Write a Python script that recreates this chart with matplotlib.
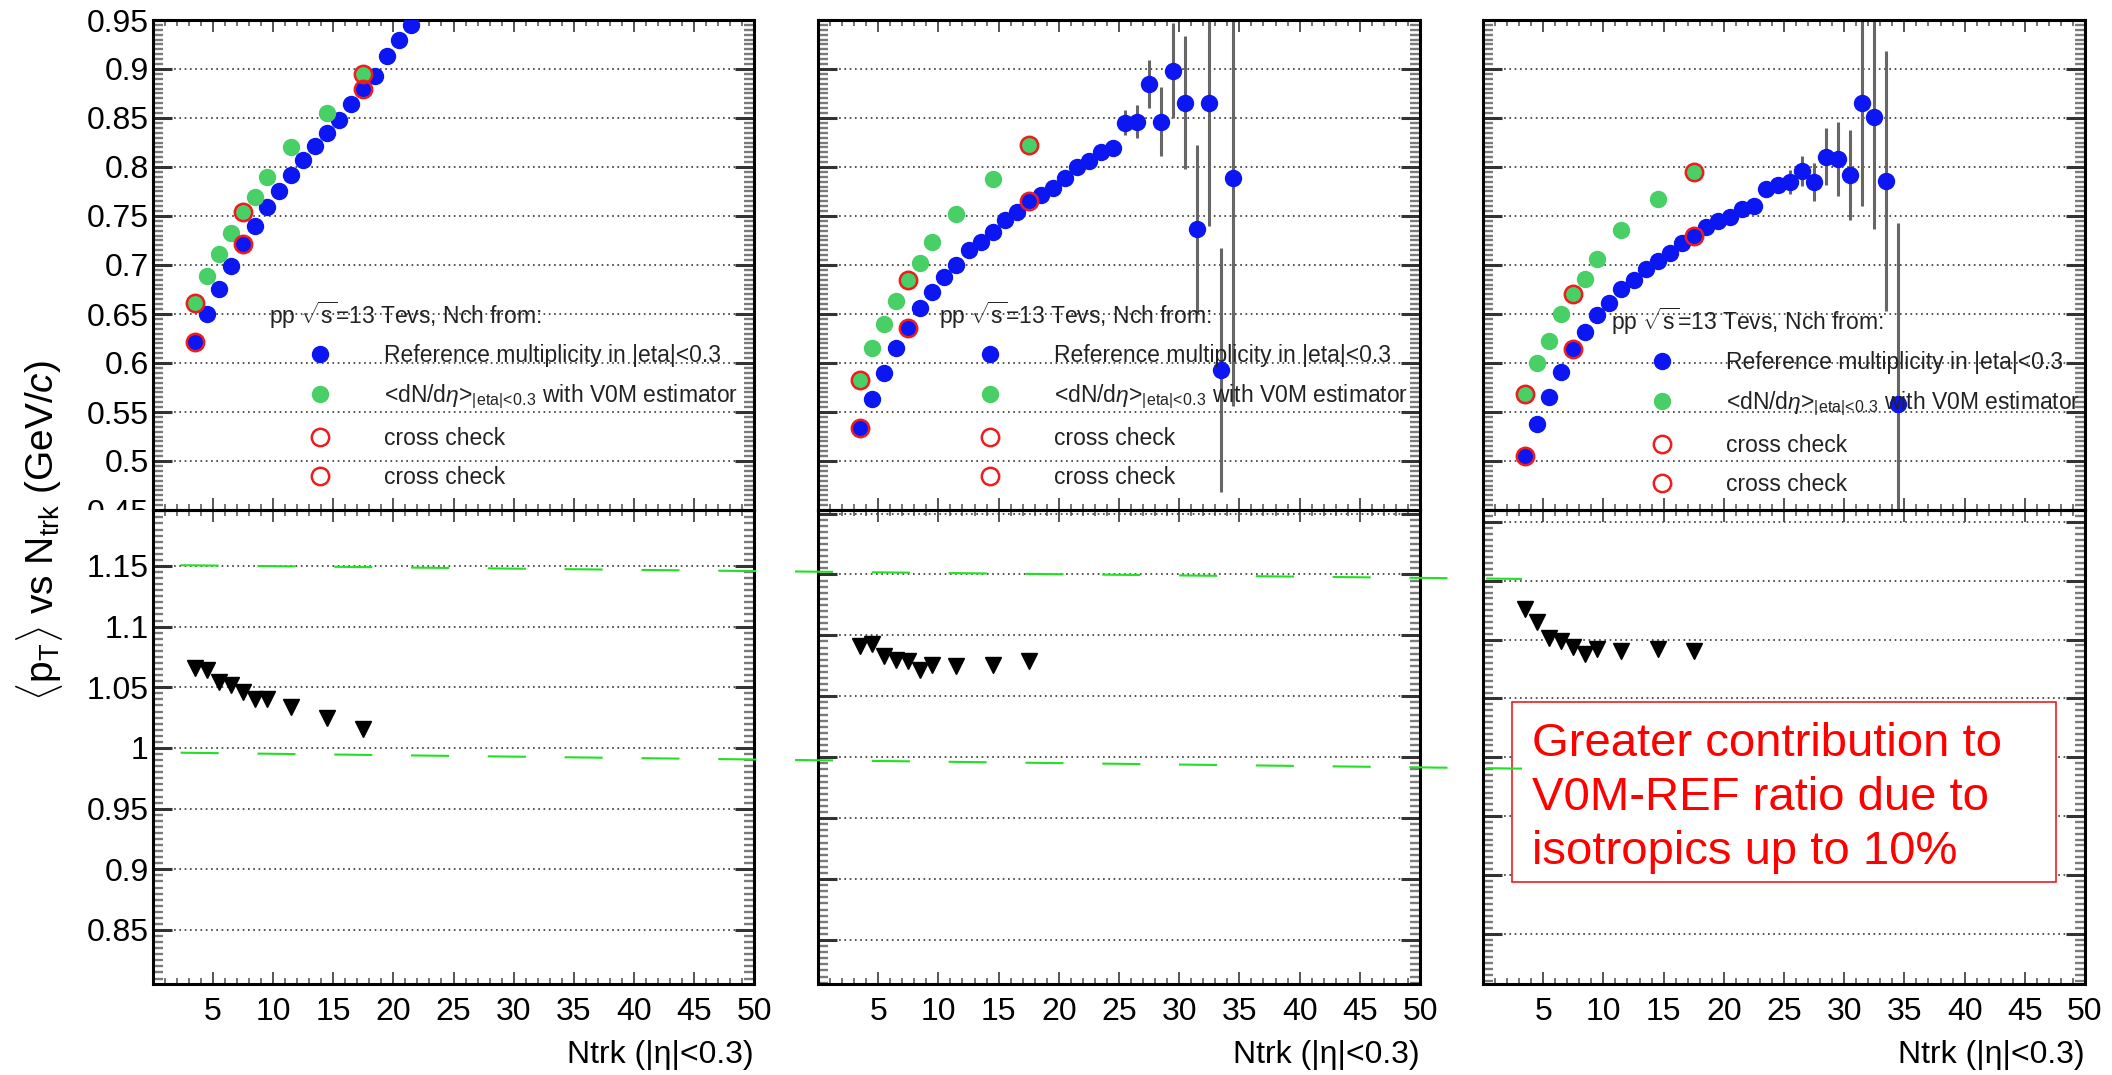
import matplotlib
matplotlib.use("Agg")
import matplotlib.pyplot as plt
from matplotlib.patches import Rectangle
from matplotlib.lines import Line2D
from matplotlib.ticker import MultipleLocator, FuncFormatter

plt.rcParams["font.family"] = ["Liberation Sans", "DejaVu Sans"]
plt.rcParams["mathtext.fontset"] = "custom"
plt.rcParams["mathtext.rm"] = "Liberation Sans"
plt.rcParams["mathtext.it"] = "Liberation Sans:italic"
plt.rcParams["mathtext.bf"] = "Liberation Sans:bold"
plt.rcParams["lines.scale_dashes"] = False

# --- Daten -------------------------------------------------------------------
# Binmitten Ntrk fuer die Referenz-Multiplizitaet
x_ref1 = [3.5, 4.5, 5.5, 6.5, 7.5, 8.5, 9.5, 10.5, 11.5, 12.5, 13.5, 14.5,
          15.5, 16.5, 17.5, 18.5, 19.5, 20.5, 21.5]
x_ref = [3.5, 4.5, 5.5, 6.5, 7.5, 8.5, 9.5, 10.5, 11.5, 12.5, 13.5, 14.5,
         15.5, 16.5, 17.5, 18.5, 19.5, 20.5, 21.5, 22.5, 23.5, 24.5, 25.5,
         26.5, 27.5, 28.5, 29.5, 30.5, 31.5, 32.5, 33.5, 34.5]
# Binmitten fuer den V0M-Schaetzer und den Cross-Check
x_v0m = [3.5, 4.5, 5.5, 6.5, 7.5, 8.5, 9.5, 11.5, 14.5, 17.5]
x_check = [3.5, 7.5, 17.5]

# Panel 1
ref_1 = [0.621, 0.650, 0.675, 0.699, 0.7215, 0.740, 0.759, 0.776, 0.792, 0.807,
         0.821, 0.835, 0.848, 0.864, 0.880, 0.893, 0.913, 0.930, 0.945]
ref_err_1 = [0.001, 0.001, 0.001, 0.001, 0.001, 0.001, 0.001, 0.001, 0.001, 0.001,
             0.001, 0.001, 0.002, 0.002, 0.002, 0.002, 0.002, 0.003, 0.003]
v0m_1 = [0.661, 0.689, 0.711, 0.733, 0.754, 0.769, 0.790, 0.820, 0.8555, 0.895]
check_v0m_1 = [0.661, 0.754, 0.895]
check_ref_1 = [0.621, 0.7215, 0.880]
ratio_1 = [1.066, 1.064, 1.054, 1.052, 1.046, 1.040, 1.040, 1.034, 1.025, 1.016]

# Panel 2
ref_2 = [0.534, 0.5636, 0.5894, 0.6149, 0.636, 0.6563, 0.6722, 0.6875, 0.7004,
         0.715, 0.7235, 0.7337, 0.7455, 0.754, 0.7649, 0.7717, 0.7781, 0.7887,
         0.8005, 0.8063, 0.8155, 0.8192, 0.8453, 0.8463, 0.8847, 0.8463, 0.8983,
         0.8657, 0.7368, 0.8657, 0.593, 0.7883]
ref_err_2 = [0.001, 0.001, 0.001, 0.001, 0.001, 0.001, 0.001, 0.001, 0.001, 0.002,
             0.002, 0.002, 0.002, 0.002, 0.003, 0.003, 0.003, 0.004, 0.004, 0.005,
             0.005, 0.006, 0.0127, 0.017, 0.0246, 0.0353, 0.0485, 0.068, 0.0857,
             0.126, 0.1247, 0.232]
v0m_2 = [0.5826, 0.6149, 0.6393, 0.663, 0.6851, 0.7021, 0.7231, 0.7523, 0.788, 0.8226]
check_v0m_2 = [0.5826, 0.6851, 0.8226]
check_ref_2 = [0.534, 0.636, 0.7649]
ratio_2 = [1.091, 1.093, 1.083, 1.080, 1.0786, 1.072, 1.0756, 1.0747, 1.0756, 1.0786]

# Panel 3
ref_3 = [0.5052, 0.5382, 0.5653, 0.5907, 0.6138, 0.6318, 0.6488, 0.6614, 0.675,
         0.6851, 0.696, 0.7038, 0.7123, 0.7225, 0.73, 0.7388, 0.7445, 0.749,
         0.7575, 0.7605, 0.7778, 0.7819, 0.7846, 0.7964, 0.7846, 0.8107, 0.8084,
         0.792, 0.8657, 0.8514, 0.786, 0.558]
ref_err_3 = [0.001, 0.001, 0.001, 0.001, 0.001, 0.001, 0.001, 0.001, 0.001, 0.002,
             0.002, 0.002, 0.002, 0.002, 0.003, 0.003, 0.003, 0.004, 0.004, 0.005,
             0.005, 0.006, 0.012, 0.0153, 0.0195, 0.0288, 0.038, 0.0458, 0.106,
             0.115, 0.1327, 0.185]
v0m_3 = [0.5687, 0.5996, 0.6223, 0.6495, 0.6706, 0.6858, 0.7062, 0.7353, 0.7676, 0.7954]
check_v0m_3 = [0.5687, 0.6706, 0.7954]
check_ref_3 = [0.5052, 0.6138, 0.73]
ratio_3 = [1.126, 1.115, 1.1015, 1.099, 1.094, 1.0875, 1.0916, 1.0906, 1.0922, 1.0906]

# gruene Hilfslinien (von Hand eingezeichnet), in Koordinaten von Panel 1 unten
guide_x = [2.3, 113.9]
guide_upper = [1.1506, 1.1393]
guide_lower = [0.9961, 0.983]

# Beschriftungen
label_ref = "Reference multiplicity in |eta|<0.3"
label_v0m = r"<dN/d$\eta$>$_{\mathrm{|eta|\!<\!0.3}}$ with V0M estimator"
label_check = "cross check"
header = r"pp $\sqrt{\mathrm{s}}$=13 Tevs, Nch from:"
note = "Greater contribution to\nV0M-REF ratio due to\nisotropics up to 10%"

BLUE = "#0c16f2"
GREEN = "#48cf66"
RED = "#ee1c1c"

# --- Layout (Pixel im Ausgabebild) -------------------------------------------
W, H = 2112, 1075
fig = plt.figure(figsize=(W / 100, H / 100), dpi=100)

panel_left = [153, 818, 1483]
panel_right = [754, 1420, 2085]
top_y, split_y, bottom_y = 20, 510, 984
low_ylims = [(0.8055, 1.1961), (0.8139, 1.2029), (0.8072, 1.2102)]
legend_pos = [(0.1923, 0.398, 0.258, 0.339),
              (0.2007, 0.398, 0.266, 0.339),
              (0.212, 0.3843, 0.278, 0.325)]

yfmt = FuncFormatter(lambda v, p: f"{round(v, 3):g}")
xfmt = FuncFormatter(lambda v, p: "" if abs(v) < 1e-9 else f"{v:g}")


def add_axes_px(left, top, right, bottom):
    return fig.add_axes([left / W, 1 - bottom / H, (right - left) / W, (bottom - top) / H])


def style_axes(ax, ylim):
    """ROOT-aehnlicher Stil: Ticks innen, gepunktetes Gitter in y."""
    ax.set_facecolor("none")
    ax.set_xlim(0, 50)
    ax.set_ylim(*ylim)
    ax.xaxis.set_major_locator(MultipleLocator(5))
    ax.xaxis.set_minor_locator(MultipleLocator(1))
    ax.yaxis.set_major_locator(MultipleLocator(0.05))
    ax.yaxis.set_minor_locator(MultipleLocator(0.005))
    ax.xaxis.set_major_formatter(xfmt)
    ax.yaxis.set_major_formatter(yfmt)
    ax.tick_params(axis="both", which="both", direction="in", top=True, right=True,
                   labelsize=23)
    ax.tick_params(axis="y", which="major", length=14, width=2.2, color="#333333", pad=3)
    ax.tick_params(axis="y", which="minor", length=7.5, width=1.7, color="#7a7a7a")
    ax.tick_params(axis="x", which="major", length=8.5, width=1.4, color="#555555", pad=9)
    ax.tick_params(axis="x", which="minor", length=4, width=1.3, color="#6a6a6a")
    ax.grid(axis="y", which="major", color="#444444", linestyle=(0, (1.2, 2.6)),
            linewidth=1.3)
    ax.set_axisbelow(True)
    for s in ax.spines.values():
        s.set_linewidth(2.2)
        s.set_color("black")


panels = [
    (x_ref1, ref_1, ref_err_1, v0m_1, check_v0m_1, check_ref_1, ratio_1),
    (x_ref, ref_2, ref_err_2, v0m_2, check_v0m_2, check_ref_2, ratio_2),
    (x_ref, ref_3, ref_err_3, v0m_3, check_v0m_3, check_ref_3, ratio_3),
]

low_axes = []
for i, (xr, ref, ref_err, v0m, chk_v, chk_r, ratio) in enumerate(panels):
    # oberes Pad: <pT> gegen Ntrk
    ax = add_axes_px(panel_left[i], top_y, panel_right[i], split_y)
    style_axes(ax, (0.45, 0.95))
    ax.tick_params(axis="x", labelbottom=False)
    if i > 0:
        ax.tick_params(axis="y", labelleft=False)

    ax.errorbar(xr, ref, yerr=ref_err, fmt="none", ecolor="#666666",
                elinewidth=2.2, capsize=0, zorder=2)
    h_ref, = ax.plot(xr, ref, "o", color=BLUE, ms=11.5, zorder=3)
    h_v0m, = ax.plot(x_v0m, v0m, "o", color=GREEN, ms=11.5, zorder=3)
    h_c1, = ax.plot(x_check, chk_v, "o", mfc="none", mec=RED, mew=1.8, ms=12.5, zorder=4)
    h_c2, = ax.plot(x_check, chk_r, "o", mfc="none", mec=RED, mew=1.8, ms=12.5, zorder=4)

    hx, hy, lx, ly = legend_pos[i]
    ax.text(hx, hy, header, transform=ax.transAxes, fontsize=16.5, va="center",
            ha="left", color="#222222", zorder=6)
    ax.legend([h_ref, h_v0m, h_c1, h_c2],
              [label_ref, label_v0m, label_check, label_check],
              loc="upper left", bbox_to_anchor=(lx, ly), frameon=False,
              fontsize=16.5, borderpad=0, borderaxespad=0, handlelength=1.0,
              handletextpad=2.3, labelspacing=0.7, labelcolor="#222222")

    # unteres Pad: Verhaeltnis V0M / REF
    axl = add_axes_px(panel_left[i], split_y, panel_right[i], bottom_y)
    style_axes(axl, low_ylims[i])
    axl.set_zorder(2)
    if i > 0:
        axl.tick_params(axis="y", labelleft=False)
    axl.plot(x_v0m, ratio, "v", color="black", ms=12, zorder=3)
    axl.set_xlabel("Ntrk (|η|<0.3)", fontsize=23, loc="right", labelpad=10)
    low_axes.append(axl)

# weisses Feld: das untere Pad verdeckt die halbe "0.45"-Beschriftung
fig.add_artist(Rectangle((78 / W, 1 - bottom_y / H), (151 - 78) / W,
                         (bottom_y - split_y) / H, transform=fig.transFigure,
                         facecolor="white", edgecolor="none", zorder=1))

# gruene, gestrichelte Hilfslinien ueber alle Pads
for ys in (guide_upper, guide_lower):
    fig.add_artist(Line2D(guide_x, ys, transform=low_axes[0].transData,
                          color="#22e022", linewidth=1.5,
                          linestyle=(0, (27.4, 27.9)), zorder=10))

# Kommentar-Kasten im dritten Panel
ax3 = low_axes[2]
ax3.add_patch(Rectangle((0.0478, 0.215), 0.9047, 0.379, transform=ax3.transAxes,
                        facecolor="white", edgecolor=RED, linewidth=1.2, zorder=5))
ax3.text(0.0822, 0.392, note, transform=ax3.transAxes, color="#ff0000",
         fontsize=34, ha="left", va="center", linespacing=1.3, zorder=6)

# gemeinsame y-Achsenbeschriftung
fig.text(40 / W, 1 - 531 / H,
         r"$\langle\mathrm{p}_{\mathrm{T}}\rangle$ vs N$_{\mathrm{trk}}$ (GeV/$\mathit{c}$)",
         rotation=90, ha="center", va="center", fontsize=28, zorder=3)

fig.savefig("out.png", dpi=100)
